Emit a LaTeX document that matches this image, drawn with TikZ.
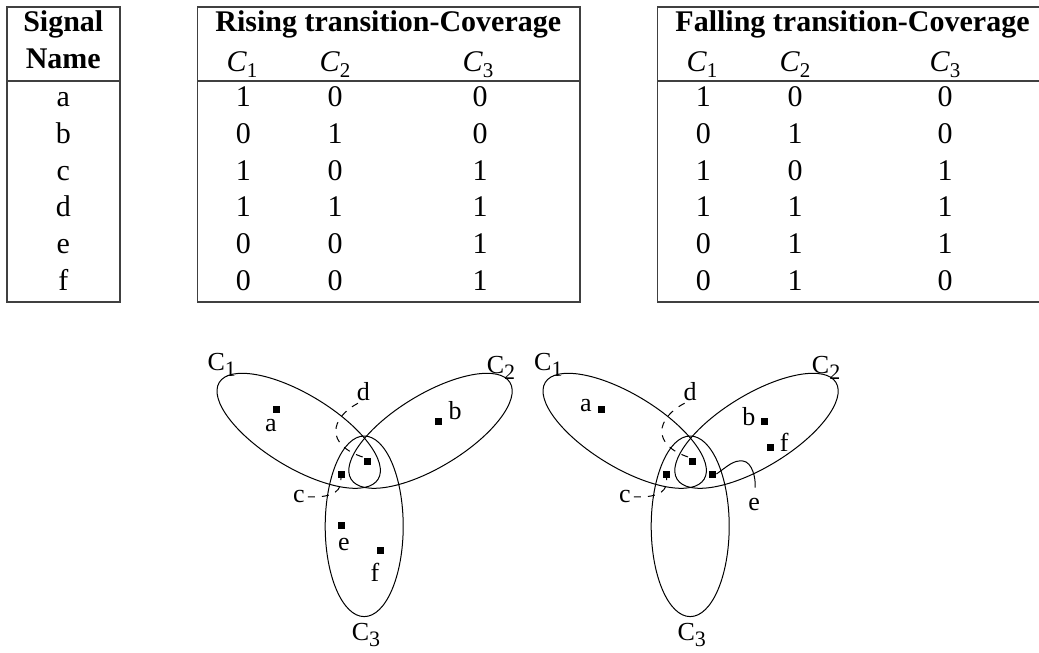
\documentclass[tikz,border=0pt]{standalone}
\usepackage{fontspec}
\setmainfont{Liberation Serif}
\newcommand\TabC[1]{\textit{C}\raisebox{-0.22em}{\fontsize{21}{21}\selectfont #1}}
\newcommand\VenC[1]{C\raisebox{-0.24em}{\fontsize{22}{22}\selectfont #1}}
\begin{document}
\begin{tikzpicture}[x=1pt,y=-1pt,
  tline/.style={draw=black!75, line width=1.3pt},
  th/.style={font=\fontsize{30}{36}\selectfont\bfseries, anchor=base, inner sep=0pt},
  td/.style={font=\fontsize{30}{36}\selectfont, anchor=base, inner sep=0pt},
  vlab/.style={font=\fontsize{26}{30}\selectfont, anchor=base, inner sep=0pt},
  clab/.style={font=\fontsize{26}{30}\selectfont, anchor=base west, inner sep=0pt},
  sq/.style={fill=black, rectangle, minimum size=7pt, inner sep=0pt},
  ell/.style={draw=black, line width=1pt},
  leader/.style={draw=black, line width=1pt, dash pattern=on 7pt off 7pt},
  solidleader/.style={draw=black, line width=1pt}]
\useasboundingbox (0,0) rectangle (1039,653);

% ---------- tables ----------
\draw[tline] (7,7) rectangle (120,302);
\draw[tline] (7,81) -- (120,81);
\draw[tline] (197.7,7) rectangle (580,302);
\draw[tline] (197.7,81) -- (580,81);
\draw[tline] (1039,7) -- (657.7,7) -- (657.7,302) -- (1039,302);
\draw[tline] (657.7,81) -- (1039,81);

\node[th] (hsig) at (63.3,31.7) {Signal};
\node[th] (hname) at (63.3,68.3) {Name};
\node[th] (hrise) at (388.3,31.7) {Rising transition-Coverage};
\node[th] (hfall) at (852.5,31.7) {Falling transition-Coverage};
\node[td] (hr1) at (242,71) {\TabC{1}};
\node[td] (hr2) at (335,71) {\TabC{2}};
\node[td] (hr3) at (478,71) {\TabC{3}};
\node[td] (hf1) at (702,71) {\TabC{1}};
\node[td] (hf2) at (795,71) {\TabC{2}};
\node[td] (hf3) at (945,71) {\TabC{3}};

\foreach \n/\ra/\rb/\rc/\fa/\fb/\fc [count=\i] in
  {a/1/0/0/1/0/0, b/0/1/0/0/1/0, c/1/0/1/1/0/1, d/1/1/1/1/1/1, e/0/0/1/0/1/1, f/0/0/1/0/1/0}{
  \node[td] (sig-\n) at (63.3,106.7+36.7*\i-36.7) {\n};
  \node[td] (r1-\n) at (243.3,106.7+36.7*\i-36.7) {\ra};
  \node[td] (r2-\n) at (335,106.7+36.7*\i-36.7) {\rb};
  \node[td] (r3-\n) at (480,106.7+36.7*\i-36.7) {\rc};
  \node[td] (f1-\n) at (703.3,106.7+36.7*\i-36.7) {\fa};
  \node[td] (f2-\n) at (795,106.7+36.7*\i-36.7) {\fb};
  \node[td] (f3-\n) at (945,106.7+36.7*\i-36.7) {\fc};
}

% ---------- left Venn (rising) ----------
\draw[ell, rotate around={-31.3:(298.7,430.8)}] (298.7,430.8) ellipse [x radius=93pt, y radius=36.5pt];
\draw[ell, rotate around={31.3:(430.5,430.8)}] (430.5,430.8) ellipse [x radius=93pt, y radius=36.5pt];
\draw[ell] (364.2,526.3) ellipse [x radius=39pt, y radius=90.3pt];

\node[clab] (LC1) at (207.3,370.7) {\VenC{1}};
\node[clab] (LC2) at (486.7,373.3) {\VenC{2}};
\node[clab] (LC3) at (351.7,640) {\VenC{3}};

\node[sq] (Lda) at (276.7,409) {};
\node[sq] (Ldb) at (438.3,421.7) {};
\node[sq] (Ldd) at (367.3,461) {};
\node[sq] (Ldc) at (341,474) {};
\node[sq] (Lde) at (341,525) {};
\node[sq] (Ldf) at (380,550.7) {};

\node[vlab] (Lla) at (271,431.7) {a};
\node[vlab] (Llb) at (455,419.3) {b};
\node[vlab] (Lld) at (363.3,400) {d};
\node[vlab] (Llc) at (299,502.7) {c};
\node[vlab] (Lle) at (344,550) {e};
\node[vlab] (Llf) at (375,581.7) {f};

\draw[leader, shorten <=6pt] (Lld.south) .. controls (330,418) and (325,445) .. (Ldd.north west);
\draw[leader, shorten <=3pt] (Llc.east) .. controls (335,498) and (342,490) .. (Ldc.south);

% ---------- right Venn (falling) ----------
\draw[ell, rotate around={-31.3:(624.7,430.8)}] (624.7,430.8) ellipse [x radius=93pt, y radius=36.5pt];
\draw[ell, rotate around={31.3:(756.5,430.8)}] (756.5,430.8) ellipse [x radius=93pt, y radius=36.5pt];
\draw[ell] (690.2,526.3) ellipse [x radius=39pt, y radius=90.3pt];

\node[clab] (RC1) at (534,370.7) {\VenC{1}};
\node[clab] (RC2) at (811.7,373.3) {\VenC{2}};
\node[clab] (RC3) at (677.3,640) {\VenC{3}};

\node[sq] (Rda) at (601.7,409) {};
\node[sq] (Rdb) at (764.3,421.7) {};
\node[sq] (Rdf) at (770.7,447.7) {};
\node[sq] (Rdd) at (692.7,461) {};
\node[sq] (Rdc) at (666.7,474) {};
\node[sq] (Rde) at (712.7,474) {};

\node[vlab] (Rla) at (585.8,411.7) {a};
\node[vlab] (Rlb) at (748.8,425) {b};
\node[vlab] (Rlf) at (784.2,451.7) {f};
\node[vlab] (Rld) at (690,400) {d};
\node[vlab] (Rlc) at (625,502.7) {c};
\node[vlab] (Rle) at (754.2,510) {e};

\draw[leader, shorten <=6pt] (Rld.south) .. controls (656,418) and (651,445) .. (Rdd.north west);
\draw[leader, shorten <=3pt] (Rlc.east) .. controls (661,498) and (668,490) .. (Rdc.south);
\draw[solidleader, shorten >=10pt] (Rde.east) .. controls (728,466) and (733,460) .. (743,461) .. controls (752,462) and (756,478) .. (Rle.north);
\end{tikzpicture}
\end{document}
